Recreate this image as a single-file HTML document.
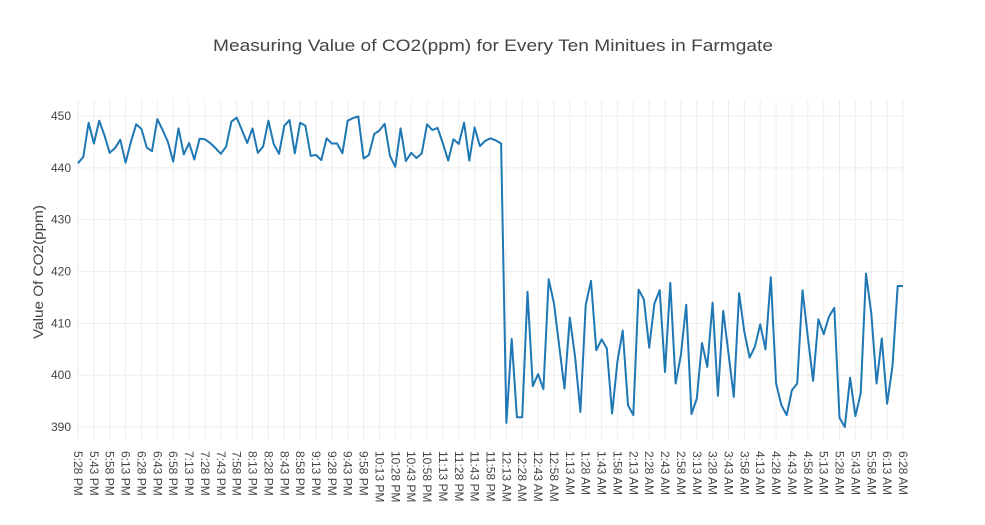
<!DOCTYPE html>
<html><head><meta charset="utf-8"><style>
body{margin:0;background:#fff;}
svg{display:block;font-family:"Liberation Sans",sans-serif;}
</style></head><body>
<svg id="chart" width="985" height="525" viewBox="0 0 985 525">
<rect width="985" height="525" fill="#fff"/>
<text x="213" y="51" textLength="560" lengthAdjust="spacingAndGlyphs" font-size="17" fill="#444">Measuring Value of CO2(ppm) for Every Ten Minitues in Farmgate</text>
<text transform="translate(43,272) rotate(-90)" x="-67" textLength="134" lengthAdjust="spacingAndGlyphs" font-size="14" fill="#444">Value Of CO2(ppm)</text>
<g id="grid"></g><g id="ticks"></g><g id="series"></g>
</svg>
<script>
const startLabel = {h:5, m:28, pm:true};
const stepMinutes = 5;
const tickEvery = 3;
const yTicks = [390,400,410,420,430,440,450];
const co2Values = [
440.9,442.1,448.7,444.7,449.1,446.3,442.9,443.8,445.4,441,445,448.4,447.5,443.9,443.2,449.4,447.3,445,441.2,447.6,
442.6,444.8,441.6,445.6,445.5,444.8,443.8,442.7,444.1,448.9,449.7,447.3,444.8,447.6,442.9,444.1,449.1,444.6,442.7,448.1,
449.2,442.8,448.7,448.1,442.3,442.5,441.5,445.7,444.7,444.7,442.8,449.1,449.6,449.9,441.8,442.5,446.5,447.2,448.5,442.3,
440.2,447.6,441.3,442.9,441.9,442.8,448.4,447.3,447.7,444.7,441.4,445.5,444.6,448.7,441.4,447.8,444.2,445.2,445.7,445.3,
444.7,390.8,407,391.9,391.9,416.1,397.9,400.2,397.3,418.5,413.8,405.5,397.4,411.1,403.5,392.9,413.5,418.2,404.8,406.9,
405.2,392.6,402.6,408.6,394.2,392.3,416.5,414.6,405.3,413.8,416.4,400.6,417.8,398.4,403.9,413.6,392.5,395.5,406.2,401.6,
414,396,412.4,404.2,395.8,415.8,408.4,403.4,405.5,409.8,405,418.9,398.4,394.2,392.3,397.1,398.4,416.4,407.4,398.9,
410.8,407.9,411.3,413,391.8,390,399.5,392.1,396.5,419.6,411.9,398.4,407.1,394.5,401.6,417.2,417.2];

const NS='http://www.w3.org/2000/svg';
const X0=78,X1=903,YT=100,YB=440;
const xs=i=>X0+(X1-X0)*i/(co2Values.length-1);
const ys=v=>116+(450-v)*(427-116)/60;
function mk(tag,attrs,parent){const e=document.createElementNS(NS,tag);for(const k in attrs)e.setAttribute(k,attrs[k]);parent.appendChild(e);return e;}
const grid=document.getElementById('grid'),ticks=document.getElementById('ticks'),series=document.getElementById('series');
function label(i){let t=startLabel.h%12*60+startLabel.m+(startLabel.pm?720:0)+i*stepMinutes;t%=1440;let h=Math.floor(t/60),m=t%60;const pm=h>=12;h=h%12;if(h===0)h=12;return h+':'+String(m).padStart(2,'0')+' '+(pm?'PM':'AM');}
for(const v of yTicks){
  const y=ys(v);
  const l=mk('line',{x1:X0,x2:X1,y1:y,y2:y,stroke:'#eee','stroke-width':1},grid);
  
  
  const t=mk('text',{x:71,y:y+4,'text-anchor':'end','font-size':12,fill:'#444'},ticks);
  t.textContent=v;
  
  
}
for(let i=0;i<co2Values.length;i+=tickEvery){
  const x=xs(i);
  const l=mk('line',{x1:x,x2:x,y1:YT,y2:YB,stroke:'#eee','stroke-width':1},grid);
  
  
  const t=mk('text',{transform:`translate(${x-4},451) rotate(90)`,'font-size':12,fill:'#444'},ticks);
  t.textContent=label(i);
  
  
}
const p=mk('polyline',{points:co2Values.map((v,i)=>xs(i).toFixed(1)+','+ys(v).toFixed(1)).join(' '),fill:'none',stroke:'#1f77b4','stroke-width':2,'stroke-linejoin':'round'},series);


</script>
</body></html>
